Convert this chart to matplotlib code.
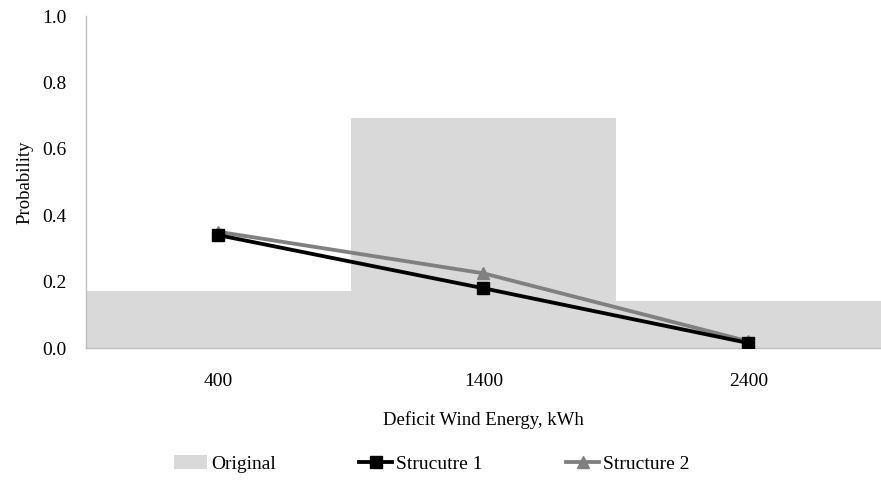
import matplotlib.pyplot as plt
import numpy as np

plt.rcParams['font.family'] = ['Liberation Serif', 'DejaVu Serif']

categories = ['400', '1400', '2400']
original = [0.172, 0.692, 0.141]
structure1 = [0.34, 0.18, 0.015]
structure2 = [0.35, 0.225, 0.02]

x = np.arange(len(categories))

fig = plt.figure(figsize=(8.81, 4.94), dpi=100)
ax = fig.add_axes([0.0976, 0.2955, 0.9024, 0.672])

bars = ax.bar(x, original, width=1.0, color='#d9d9d9', label='Original', zorder=1)
l1, = ax.plot(x, structure1, color='black', lw=2.75, marker='s', ms=8.5,
              label='Strucutre 1', zorder=3)
l2, = ax.plot(x, structure2, color='#808080', lw=2.75, marker='^', ms=8.5,
              label='Structure 2', zorder=2)

ax.set_xlim(-0.5, 2.5)
ax.set_ylim(0, 1.0)
yt = np.arange(0, 1.01, 0.2)
ax.set_yticks(yt)
ax.set_yticklabels([f'{v:.1f}' for v in yt])
ax.set_xticks(x)
ax.set_xticklabels(categories)
ax.tick_params(length=0, labelsize=14)
ax.tick_params(axis='y', pad=14)
ax.tick_params(axis='x', pad=18)

for side in ['top', 'right']:
    ax.spines[side].set_visible(False)
for side in ['left', 'bottom']:
    ax.spines[side].set_color('#bfbfbf')
    ax.spines[side].set_linewidth(1)

ax.set_ylabel('Probability', fontsize=13.5, labelpad=6)
ax.set_xlabel('Deficit Wind Energy, kWh', fontsize=13.5, labelpad=15)

ax.legend(handles=[bars, l1, l2], loc='center', bbox_to_anchor=(0.435, -0.35),
          ncol=3, frameon=False, fontsize=14, columnspacing=4.3,
          handlelength=1.7, handletextpad=0.2)

fig.savefig('out.png', dpi=100)
